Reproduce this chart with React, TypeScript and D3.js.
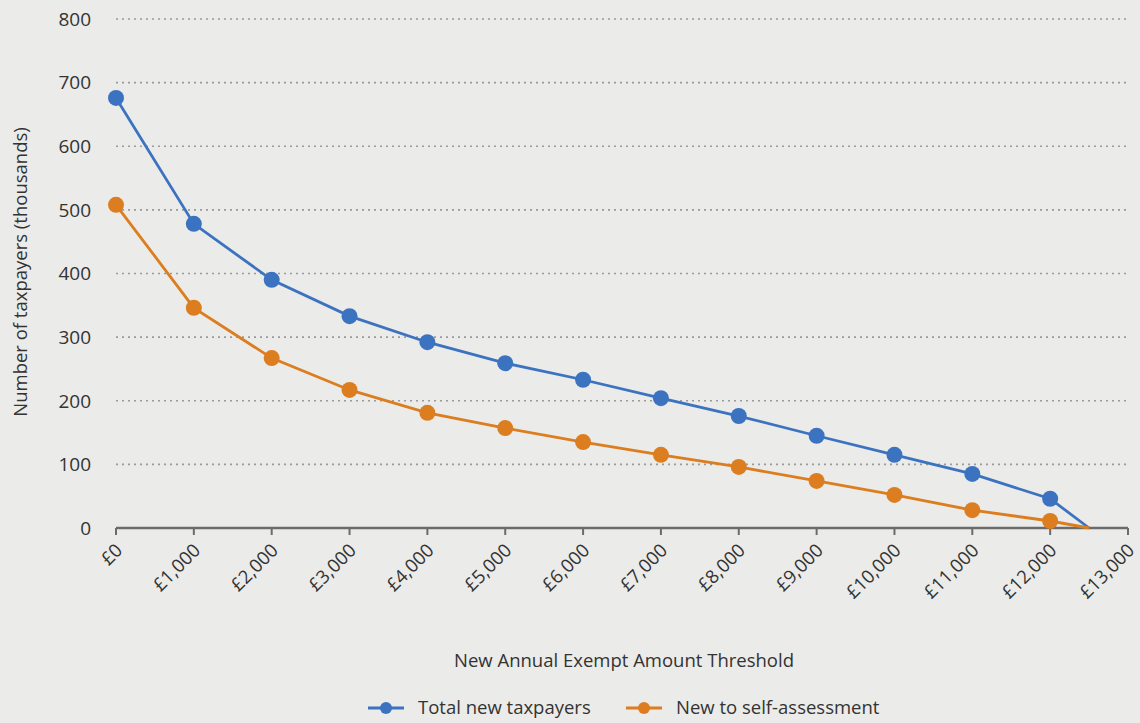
import React from 'react';
import * as d3 from 'd3';

// thresholds in £
const thresholds = [0, 1000, 2000, 3000, 4000, 5000, 6000, 7000, 8000, 9000, 10000, 11000, 12000, 12500];
// thousands of taxpayers
const totalNew = [676, 478, 390, 333, 292, 259, 233, 204, 176, 145, 115, 85, 46, 0];
const newToSA = [508, 346, 267, 217, 181, 157, 135, 115, 96, 74, 52, 28, 11, 0];
// markers only sit on the whole thousands
const markerCount = 13;

const xTicks = [0, 1000, 2000, 3000, 4000, 5000, 6000, 7000, 8000, 9000, 10000, 11000, 12000, 13000];
const yTicks = [0, 100, 200, 300, 400, 500, 600, 700, 800];

const BLUE = '#3b73c1';
const ORANGE = '#dc7d1f';
const FONT = '"Open Sans", "DejaVu Sans", sans-serif';

const W = 1140, H = 723;
const margin = { left: 116, right: 12, top: 19, bottom: 195 };

export default function App() {
  const x = d3.scaleLinear().domain([0, 13000]).range([margin.left, W - margin.right]);
  const y = d3.scaleLinear().domain([0, 800]).range([H - margin.bottom, margin.top]);

  const line = d3.line<number>().x((_, i) => x(thresholds[i])).y(d => y(d));
  const fmt = (v: number) => '£' + d3.format(',')(v);

  const series = [
    { name: 'Total new taxpayers', values: totalNew, color: BLUE },
    { name: 'New to self-assessment', values: newToSA, color: ORANGE },
  ];

  // legend layout
  const legendY = 708;
  const legendItems = [
    { x: 368, label: series[0].name, color: BLUE },
    { x: 626, label: series[1].name, color: ORANGE },
  ];

  return (
    <div style={{ position: 'fixed', left: 0, top: 0, width: W, height: H }}>
      <svg width={W} height={H} style={{ display: 'block', background: '#ebebe9', fontFamily: FONT }}>
        {/* gridlines */}
        {yTicks.filter(t => t > 0).map(t => (
          <line key={t} x1={x(0)} x2={x(13000)} y1={y(t)} y2={y(t)}
            stroke="#9a9a9a" strokeWidth={1.6} strokeDasharray="2,4" />
        ))}
        {/* y tick labels */}
        {yTicks.map(t => (
          <text key={t} x={91} y={y(t)} dy="0.36em" textAnchor="end" fontSize={19} fill="#333">{t}</text>
        ))}
        {/* y title */}
        <text transform={`translate(27,${272}) rotate(-90)`} textAnchor="middle"
          fontSize={18.5} fill="#333">Number of taxpayers (thousands)</text>

        {/* x axis */}
        <line x1={x(0)} x2={x(13000)} y1={y(0)} y2={y(0)} stroke="#6b6b6b" strokeWidth={2.5} />
        {xTicks.map(t => (
          <g key={t} transform={`translate(${x(t)},${y(0)})`}>
            <line y1={0} y2={7} stroke="#6b6b6b" strokeWidth={2} />
            <text transform="translate(3,19) rotate(-45)" textAnchor="end" dy="0.35em"
              fontSize={18.5} fill="#333">{fmt(t)}</text>
          </g>
        ))}
        <text x={624} y={667} textAnchor="middle" fontSize={18.5} fill="#333">
          New Annual Exempt Amount Threshold
        </text>

        {/* series */}
        {series.map(s => (
          <g key={s.name}>
            <path d={line(s.values) ?? ''} fill="none" stroke={s.color} strokeWidth={2.8} />
            {s.values.slice(0, markerCount).map((v, i) => (
              <circle key={i} cx={x(thresholds[i])} cy={y(v)} r={8} fill={s.color} />
            ))}
          </g>
        ))}

        {/* legend */}
        {legendItems.map(l => (
          <g key={l.label} transform={`translate(${l.x},${legendY})`}>
            <line x1={0} x2={36} y1={0} y2={0} stroke={l.color} strokeWidth={2.8} />
            <circle cx={18} cy={0} r={6} fill={l.color} />
            <text x={50} y={0} dy="0.35em" fontSize={18.5} fill="#333">{l.label}</text>
          </g>
        ))}
      </svg>
    </div>
  );
}
